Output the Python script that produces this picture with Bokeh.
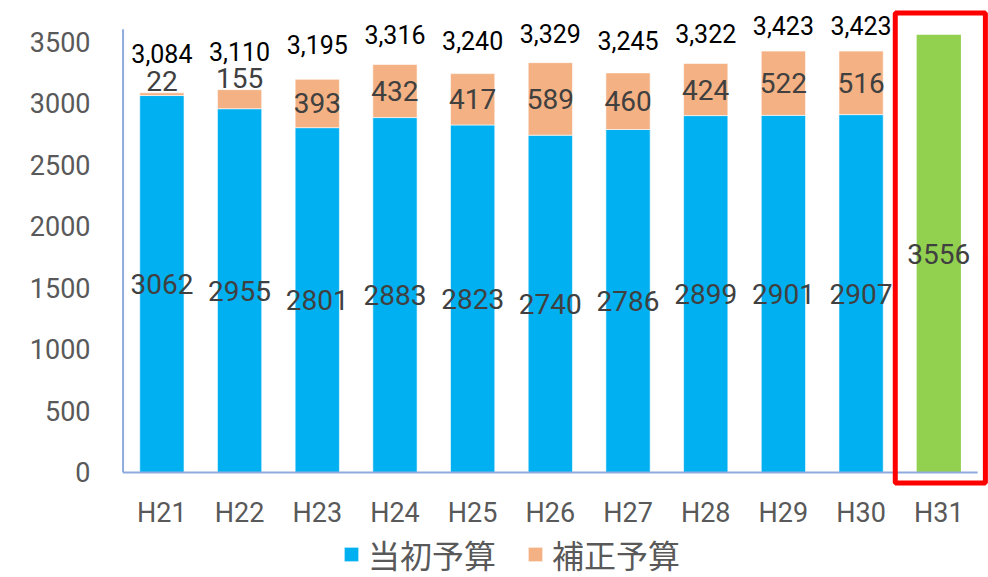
import numpy as np
from bokeh.plotting import figure
from bokeh.models import (Range1d, FixedTicker, ColumnDataSource, Legend, LegendItem,
                          BoxAnnotation)
from bokeh.core.properties import value
from bokeh.embed import file_html
from bokeh.resources import INLINE

# ---- data ----
categories = ["H21", "H22", "H23", "H24", "H25", "H26", "H27", "H28", "H29", "H30", "H31"]
initial_budget = [3062, 2955, 2801, 2883, 2823, 2740, 2786, 2899, 2901, 2907]
supplementary_budget = [22, 155, 393, 432, 417, 589, 460, 424, 522, 516]
total_labels = ["3,084", "3,110", "3,195", "3,316", "3,240", "3,329", "3,245", "3,322", "3,423", "3,423"]
h31_budget = 3556
y_ticks = [0, 500, 1000, 1500, 2000, 2500, 3000, 3500]

BLUE = "#00B0F0"
ORANGE = "#F4B183"
GREEN = "#92D050"
AXIS = "#8FAADC"
GRAY = "#595959"
DARK = "#404040"
FONT = "Roboto"

n = len(initial_budget)
xs = np.arange(n)
init = np.array(initial_budget, dtype=float)
supp = np.array(supplementary_budget, dtype=float)
tops = init + supp
totals_num = np.array([float(s.replace(",", "")) for s in total_labels])

# layout: frame spans 8..577 px vertically, value 0 sits at 472 px
Y0, Y1 = -853, 3769
px_per_unit = 569 / (Y1 - Y0)
cat_label_y = -41 / px_per_unit      # category labels 41 px below the baseline

src = ColumnDataSource(dict(
    x=xs, init=init, supp=supp, top=tops,
    init_mid=init / 2,
    supp_lab=np.where(supp < 200, tops + 95, init + supp / 2),
    init_txt=[str(v) for v in initial_budget],
    supp_txt=[str(v) for v in supplementary_budget],
    tot=totals_num, tot_txt=total_labels,
))
h31_x = n
src31 = ColumnDataSource(dict(x=[h31_x], top=[h31_budget], mid=[h31_budget / 2], txt=[str(h31_budget)]))
src_cat = ColumnDataSource(dict(x=np.arange(len(categories)), y=[cat_label_y] * len(categories),
                                txt=categories))

p = figure(frame_width=867, frame_height=569, output_backend="svg", toolbar_location=None,
           x_range=Range1d(-0.52, 10.64), y_range=Range1d(Y0, Y1),
           min_border_left=121, min_border_right=0, min_border_top=8, min_border_bottom=0)
p.extra_y_ranges = {"totals": Range1d(-3260, 3629)}
p.outline_line_color = None
p.grid.visible = False
p.xaxis.visible = False

bw = 0.57
r_init = p.vbar(x="x", bottom=0, top="init", width=bw, source=src, fill_color=BLUE,
                line_color="white", line_alpha=0.6, line_width=1)
r_supp = p.vbar(x="x", bottom="init", top="top", width=bw, source=src, fill_color=ORANGE,
                line_color="white", line_alpha=0.6, line_width=1)
p.vbar(x="x", bottom=0, top="top", width=bw, source=src31, fill_color=GREEN, line_color=None)

# axis lines
p.segment(x0=[-0.5], y0=[0], x1=[-0.5], y1=[3600], line_color=AXIS, line_width=2)
p.segment(x0=[-0.5], y0=[0], x1=[n + 0.5], y1=[0], line_color=AXIS, line_width=2)

# labels
p.text(x="x", y="init_mid", text="init_txt", source=src, text_align="center",
       text_baseline="middle", text_color=DARK, text_font=value(FONT), text_font_size="28px")
p.text(x="x", y="supp_lab", text="supp_txt", source=src, text_align="center",
       text_baseline="middle", text_color=DARK, text_font=value(FONT), text_font_size="28px")
p.text(x="x", y="mid", text="txt", source=src31, text_align="center",
       text_baseline="middle", text_color=DARK, text_font=value(FONT), text_font_size="28px")
p.text(x="x", y="tot", text="tot_txt", source=src, y_range_name="totals", text_align="center",
       text_baseline="middle", text_color="black", text_font=value(FONT), text_font_size="25px")
# category labels
p.text(x="x", y="y", text="txt", source=src_cat, text_align="center",
       text_baseline="middle", text_color=GRAY, text_font=value(FONT), text_font_size="27px")

# highlight box around H31
p.add_layout(BoxAnnotation(left=h31_x - 0.56, right=h31_x + 0.60, bottom=-85, top=3733,
                           fill_alpha=0, line_color="#FF0000", line_alpha=1.0, line_width=5))

# y axis
p.yaxis.ticker = FixedTicker(ticks=y_ticks)
p.yaxis.axis_line_color = None
p.yaxis.major_tick_line_color = None
p.yaxis.minor_tick_line_color = None
p.yaxis.major_tick_out = 0
p.yaxis.major_tick_in = 0
p.yaxis.major_label_standoff = 31
p.yaxis.major_label_text_font = FONT
p.yaxis.major_label_text_font_size = "27px"
p.yaxis.major_label_text_color = GRAY

legend = Legend(items=[LegendItem(label="当初予算", renderers=[r_init]),
                       LegendItem(label="補正予算", renderers=[r_supp])],
                orientation="horizontal", location=(221, 0),
                label_text_font="Noto Sans CJK JP", label_text_font_size="32px",
                label_text_color=GRAY, glyph_width=18, glyph_height=18,
                label_standoff=8, spacing=30, padding=0, margin=0,
                border_line_color=None, background_fill_alpha=0)
p.add_layout(legend, "center")

open("out.html", "w").write(file_html(p, INLINE))
